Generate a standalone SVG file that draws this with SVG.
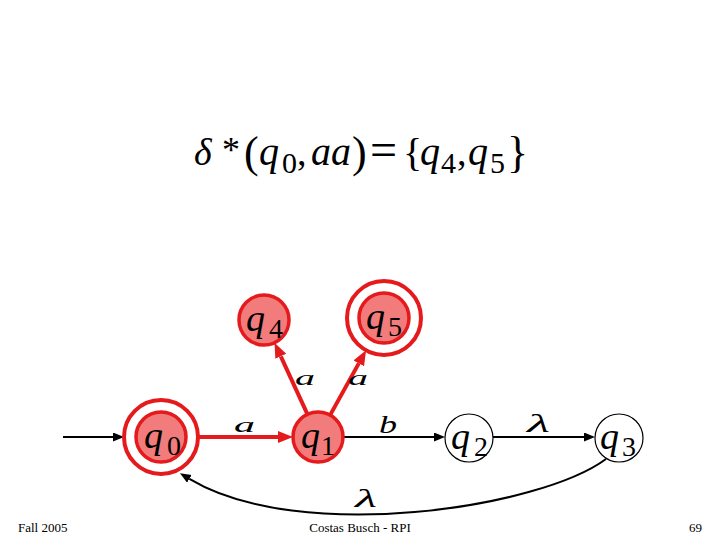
<svg xmlns="http://www.w3.org/2000/svg" width="720" height="540" viewBox="0 0 720 540">
<style>
.f{font-family:"Liberation Serif","Times New Roman",serif;fill:#000}
.i{font-style:italic}
.rn{fill:#f27c7c;stroke:#e41a1c;stroke-width:3.5}
.ro{fill:none;stroke:#e41a1c;stroke-width:4}
.bn{fill:#fff;stroke:#000;stroke-width:1.2}
.bl{fill:none;stroke:#000;stroke-width:2}
.rl{fill:none;stroke:#e41a1c;stroke-width:4}
.ql{font-size:38px}
.qs{font-size:28px}
.el{font-size:26px}
.ea{font-size:22px}
.ft{font-size:13px}
</style>
<defs>
<marker id="ab" markerUnits="userSpaceOnUse" markerWidth="12" markerHeight="10" refX="0" refY="4.5" orient="auto"><path d="M0,0 L11,4.5 L0,9 z" fill="#000"/></marker>
<marker id="ar" markerUnits="userSpaceOnUse" markerWidth="16" markerHeight="13" refX="0" refY="6" orient="auto"><path d="M0,0 L15,6 L0,12 z" fill="#e41a1c"/></marker>
</defs>

<g id="formula" class="f">
<text x="194" y="165" class="i" font-size="38">δ</text>
<text x="222" y="162" font-size="36">*</text>
<text x="244" y="167" font-size="44">(</text>
<text x="259" y="165" class="i" font-size="40">q</text>
<text x="282" y="173" font-size="30">0</text>
<text x="297" y="165" font-size="38">,</text>
<text x="311" y="165" class="i" font-size="40">aa</text>
<text x="352" y="167" font-size="44">)</text>
<text x="370" y="166" font-size="48">=</text>
<text x="403" y="166" font-size="40">{</text>
<text x="420" y="165" class="i" font-size="40">q</text>
<text x="441" y="173" font-size="30">4</text>
<text x="457" y="165" font-size="38">,</text>
<text x="468" y="165" class="i" font-size="40">q</text>
<text x="490" y="173" font-size="30">5</text>
<text x="507" y="167" font-size="44">}</text>
</g>

<g id="connectors">
<line x1="63" y1="437" x2="113" y2="437" class="bl" marker-end="url(#ab)"/>
<line x1="198" y1="437" x2="278" y2="437" class="rl" marker-end="url(#ar)"/>
<line x1="307.5" y1="414.3" x2="280.8" y2="356.3" class="rl" marker-end="url(#ar)"/>
<line x1="330.1" y1="415.1" x2="358.8" y2="363.4" class="rl" marker-end="url(#ar)"/>
<line x1="343" y1="437" x2="434" y2="437" class="bl" marker-end="url(#ab)"/>
<line x1="493" y1="437" x2="584" y2="437" class="bl" marker-end="url(#ab)"/>
<path d="M606,459 C540,508 300,545 189.4,478.8" class="bl" marker-end="url(#ab)"/>
<g class="f i">
<text x="234" y="432" class="ea" textLength="21" lengthAdjust="spacingAndGlyphs">a</text>
<text x="295" y="385" class="ea" textLength="20" lengthAdjust="spacingAndGlyphs">a</text>
<text x="348" y="385" class="ea" textLength="20" lengthAdjust="spacingAndGlyphs">a</text>
<text x="379" y="433" class="el" textLength="18" lengthAdjust="spacingAndGlyphs">b</text>
<text x="527" y="432" class="el" textLength="23" lengthAdjust="spacingAndGlyphs">λ</text>
<text x="355" y="507" class="el" textLength="22" lengthAdjust="spacingAndGlyphs">λ</text>
</g>
</g>

<g id="q0">
<circle cx="161" cy="437" r="37" class="ro"/>
<circle cx="161" cy="437" r="25" class="rn"/>
<text x="144" y="448" class="f i ql">q</text><text x="167" y="455" class="f qs">0</text>
</g>
<g id="q1">
<circle cx="318" cy="437" r="25" class="rn"/>
<text x="301" y="448" class="f i ql">q</text><text x="321" y="455" class="f qs">1</text>
</g>
<g id="q2">
<circle cx="469" cy="438" r="24" class="bn"/>
<text x="451" y="449" class="f i ql">q</text><text x="474" y="456" class="f qs">2</text>
</g>
<g id="q3">
<circle cx="619" cy="438" r="24" class="bn"/>
<text x="600" y="449" class="f i ql">q</text><text x="622" y="456" class="f qs">3</text>
</g>
<g id="q4">
<circle cx="264" cy="320" r="25" class="rn"/>
<text x="246" y="331" class="f i ql">q</text><text x="269" y="338" class="f qs">4</text>
</g>
<g id="q5">
<circle cx="384" cy="318" r="37" class="ro"/>
<circle cx="384" cy="318" r="25" class="rn"/>
<text x="366" y="329" class="f i ql">q</text><text x="388" y="336" class="f qs">5</text>
</g>

<g id="footer" class="f ft">
<text x="18" y="532">Fall 2005</text>
<text x="360" y="532" text-anchor="middle">Costas Busch - RPI</text>
<text x="702" y="532" text-anchor="end">69</text>
</g>
</svg>
